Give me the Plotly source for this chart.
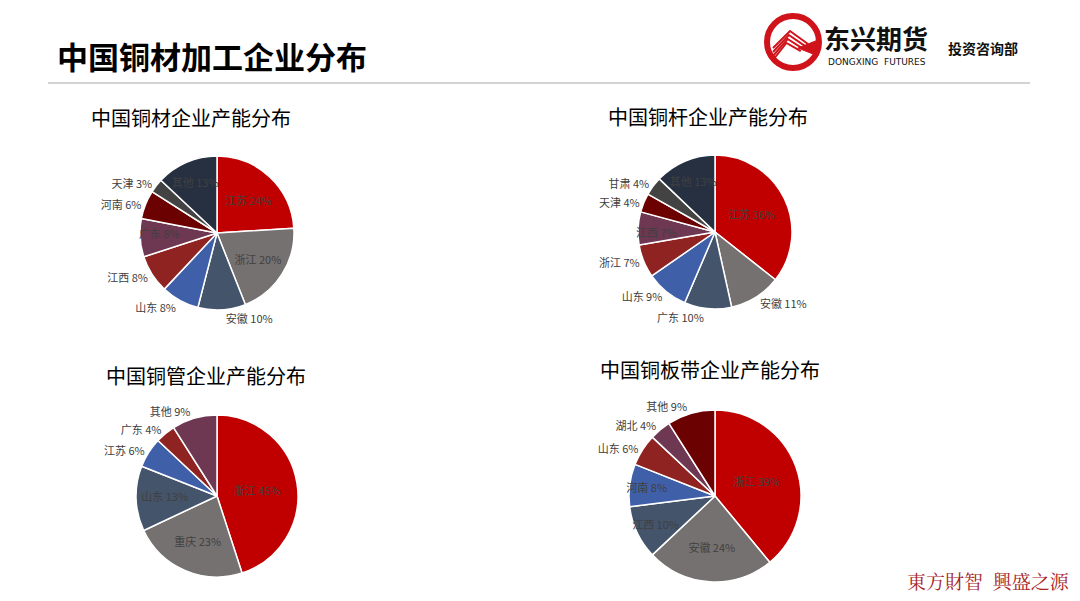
import plotly.graph_objects as go

W, H = 1080, 601
FONT = "Noto Sans CJK SC"

PALETTE = ["#C00000", "#767171", "#44546A", "#3F5FA9", "#8E2322",
           "#6E3752", "#6B0101", "#434343", "#263040"]

# Chart 1: 中国铜材企业产能分布
c1_labels = ["江苏", "浙江", "安徽", "山东", "江西", "广东", "河南", "天津", "其他"]
c1_values = [24, 20, 10, 8, 8, 8, 6, 3, 13]
c1_pos = ["inside", "inside", "outside", "outside", "outside", "inside", "outside", "outside", "inside"]

# Chart 2: 中国铜杆企业产能分布
c2_labels = ["江苏", "安徽", "广东", "山东", "浙江", "江西", "天津", "甘肃", "其他"]
c2_values = [36, 11, 10, 9, 7, 7, 4, 4, 13]
c2_pos = ["inside", "outside", "outside", "outside", "outside", "inside", "outside", "outside", "inside"]

# Chart 3: 中国铜管企业产能分布
c3_labels = ["浙江", "重庆", "山东", "江苏", "广东", "其他"]
c3_values = [45, 23, 13, 6, 4, 9]
c3_pos = ["inside", "inside", "inside", "outside", "outside", "outside"]

# Chart 4: 中国铜板带企业产能分布
c4_labels = ["浙江", "安徽", "江西", "河南", "山东", "湖北", "其他"]
c4_values = [39, 24, 10, 8, 6, 4, 9]
c4_pos = ["inside", "inside", "inside", "inside", "outside", "outside", "outside"]


def dom(cx, cy, r):
    return dict(x=[(cx - r) / W, (cx + r) / W], y=[1 - (cy + r) / H, 1 - (cy - r) / H])


def pie(labels, values, pos, cx, cy, r):
    return go.Pie(
        labels=labels, values=values, sort=False, direction="clockwise", rotation=0,
        marker=dict(colors=PALETTE[:len(labels)], line=dict(color="white", width=1.5)),
        texttemplate="%{label} %{value}%", textposition=pos,
        insidetextorientation="horizontal",
        textfont=dict(family=FONT, size=11, color="#404040"),
        insidetextfont=dict(family=FONT, size=11, color="#404040"),
        outsidetextfont=dict(family=FONT, size=11, color="#404040"),
        domain=dom(cx, cy, r), showlegend=False, hoverinfo="label+value",
    )


fig = go.Figure()
fig.add_trace(pie(c1_labels, c1_values, c1_pos, 217, 233, 77))
fig.add_trace(pie(c2_labels, c2_values, c2_pos, 715, 232, 77))
fig.add_trace(pie(c3_labels, c3_values, c3_pos, 217, 496, 81))
fig.add_trace(pie(c4_labels, c4_values, c4_pos, 715, 496, 86))


def px(x):
    return x / W


def py(y):
    return 1 - y / H


def ann(text, x, y, size, color="#000000", anchor="left", family=FONT):
    return dict(text=text, x=px(x), y=py(y), xref="paper", yref="paper", showarrow=False,
                xanchor=anchor, yanchor="middle",
                font=dict(family=family, size=size, color=color))


annotations = [
    ann("<b>中国铜材加工企业分布</b>", 55, 55, 31),
    ann("中国铜材企业产能分布", 191, 117, 20, anchor="center"),
    ann("中国铜杆企业产能分布", 708, 116, 20, anchor="center"),
    ann("中国铜管企业产能分布", 206, 375, 20, anchor="center"),
    ann("中国铜板带企业产能分布", 710, 369, 20, anchor="center"),
    ann("<b>东兴期货</b>", 822, 38, 26, color="#111111"),
    ann("DONGXING  FUTURES", 826, 62, 9, color="#111111", family="DejaVu Sans"),
    ann("<b>投资咨询部</b>", 946, 48, 14, color="#111111"),
    ann("東方財智  興盛之源", 1072, 580, 19, color="#A8231F", anchor="right",
        family="Noto Serif CJK SC, Noto Sans CJK TC, serif"),
]

shapes = [
    dict(type="line", xref="paper", yref="paper", x0=px(48), x1=px(1030), y0=py(83), y1=py(83),
         line=dict(color="#A6A6A6", width=1)),
    # logo ring
    dict(type="circle", xref="paper", yref="paper", x0=px(767), x1=px(819), y0=py(68), y1=py(16),
         line=dict(color="#D0121B", width=6), fillcolor="white"),
]
# logo stripes
for i, dy in enumerate([0, 4, 8, 12]):
    shapes.append(dict(type="path", xref="paper", yref="paper",
                       path=f"M {px(773)} {py(48 + dy)} L {px(790 - dy * 0.3)} {py(31 + dy)} "
                            f"L {px(808 - dy * 0.6)} {py(44 + dy * 0.6)}",
                       line=dict(color="#D0121B", width=2)))
shapes.append(dict(type="path", xref="paper", yref="paper",
                   path=f"M {px(798)} {py(48)} L {px(818)} {py(40)} L {px(818)} {py(56)} Z",
                   fillcolor="#D0121B", line=dict(color="#D0121B", width=1)))

fig.update_layout(
    width=W, height=H, margin=dict(l=0, r=0, t=0, b=0),
    paper_bgcolor="white", plot_bgcolor="white",
    annotations=annotations, shapes=shapes,
    font=dict(family=FONT),
    uniformtext=dict(mode="show", minsize=11),
)

fig.write_html("out.html")
